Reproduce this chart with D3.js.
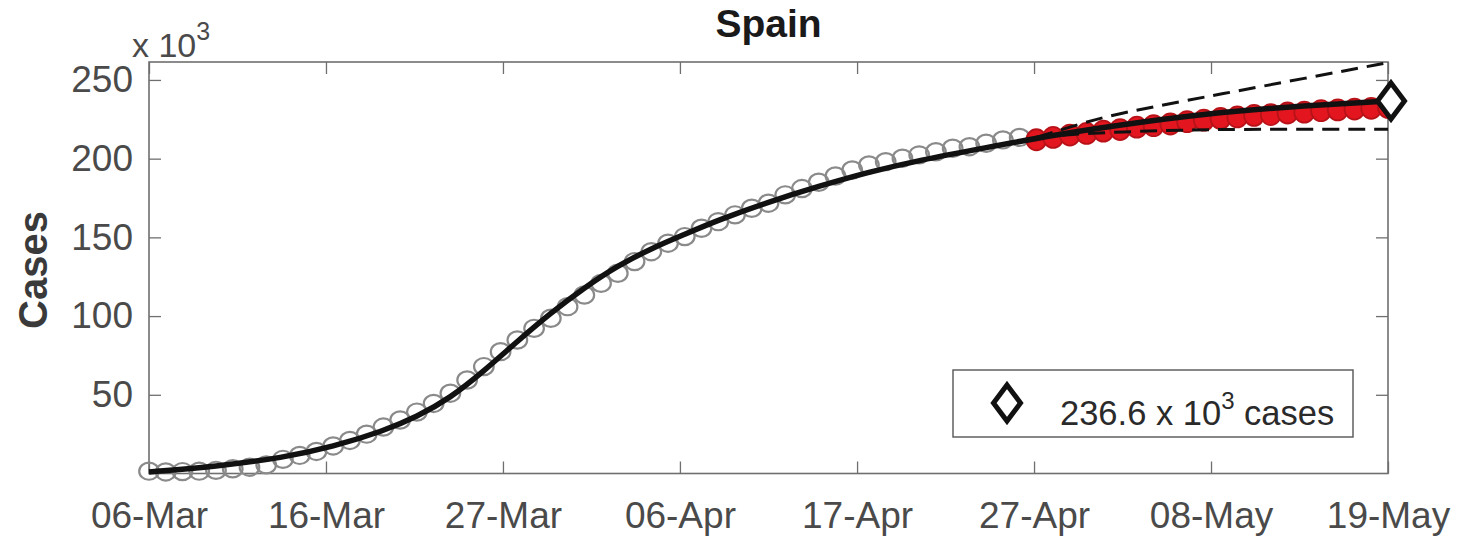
<!DOCTYPE html>
<html>
<head>
<meta charset="utf-8">
<script src="https://cdn.jsdelivr.net/npm/d3@7"></script>
<style>
body{margin:0;background:#fff;}
svg{display:block;font-family:"Liberation Sans",Arial,Helvetica,sans-serif;}
</style>
</head>
<body>
<div id="chart"></div>
<script>
// cumulative cases (x 10^3), one value per day starting 06-Mar (day 0)
const fittedCases = [1.5, 1.0, 1.2, 1.5, 2.0, 3.0, 4.0, 5.5, 9, 11.5,
	14, 17.5, 21, 25, 29.5, 34, 39, 44.5, 51, 59.4,
	67.9, 77.4, 84.8, 92.2, 98.6, 106.0, 113.4, 120.8, 127.2, 134.6,
	140.9, 146.3, 150.5, 155.8, 160.0, 164.3, 168.5, 171.7, 177, 181,
	185, 189, 192.8, 196, 198.1, 200.3, 202.4, 204.4, 206.6, 207.6,
	209.8, 211.9, 213.5];
// red points, days 53..74 (28-Apr .. 19-May)
const testStart = 53;
const testCases = [212, 213.5, 215, 216, 217.5, 218.5, 220, 221, 222, 223.5,
	224.5, 225.5, 226.5, 227.5, 228, 229, 229.5, 230.5, 231, 231.5, 232, 232.5];
// model curve
const modelDays = [0, 4, 8, 11, 14, 16, 18, 20, 22, 24, 26, 28, 30, 32, 34, 37, 40, 43, 46, 50, 54, 58, 63, 68, 74];
const modelCases = [1, 4.5, 10, 17, 27, 36, 48, 65, 84, 102, 118, 132, 143, 152, 161, 172.5, 182.5, 191.5, 199, 207, 215, 221.5, 228.5, 233, 236.6];
// bounds
const upperDays = [53, 55, 57, 60, 64, 69, 74];
const upperCases = [213.5, 220, 226.5, 233, 241, 251, 261];
const lowerDays = [53, 55, 58, 62, 66, 74];
const lowerCases = [213.5, 215.5, 217, 218.3, 218.7, 218.7];
const forecastDay = 74;
const forecastValue = 236.6;

const xTickDays = [0, 10.57, 21.14, 31.71, 42.29, 52.86, 63.43, 74];
const xTickLabels = ["06-Mar", "16-Mar", "27-Mar", "06-Apr", "17-Apr", "27-Apr", "08-May", "19-May"];
const yTicks = [50, 100, 150, 200, 250];

const W = 1460, H = 541;
const L = 149, R = 1388, T = 62, B = 473.5;
const axisCol = "#6f6f6f", textCol = "#4a4a4a";

const svg = d3.select("#chart").append("svg")
	.attr("width", W).attr("height", H);

const x = d3.scaleLinear().domain([0, 74]).range([L, R]);
const y = d3.scaleLinear().domain([0, 261.4]).range([B, T]);

//======== axes (ticks inward on all four sides)
function styleAxis(g){
	g.select(".domain").remove();
	g.selectAll(".tick line").attr("stroke", axisCol).attr("stroke-width", 1.3);
	g.selectAll(".tick text").attr("fill", textCol).attr("font-size", 37)
		.attr("font-family", "Liberation Sans, Arial, sans-serif");
}
svg.append("g").attr("transform", "translate(0," + B + ")")
	.call(d3.axisBottom(x).tickValues(xTickDays).tickSize(-12).tickPadding(28)
		.tickFormat((d, i) => xTickLabels[i]))
	.call(styleAxis);
svg.append("g").attr("transform", "translate(0," + T + ")")
	.call(d3.axisTop(x).tickValues(xTickDays).tickSize(-12).tickFormat(""))
	.call(styleAxis);
svg.append("g").attr("transform", "translate(" + L + ",0)")
	.call(d3.axisLeft(y).tickValues(yTicks).tickSize(-12).tickPadding(16))
	.call(styleAxis);
svg.append("g").attr("transform", "translate(" + R + ",0)")
	.call(d3.axisRight(y).tickValues(yTicks).tickSize(-12).tickFormat(""))
	.call(styleAxis);

svg.append("rect")
	.attr("x", L).attr("y", T).attr("width", R - L).attr("height", B - T)
	.attr("fill", "none").attr("stroke", axisCol).attr("stroke-width", 1.6);

//======== data
svg.append("g").selectAll("ellipse")
	.data(fittedCases)
	.enter().append("ellipse")
	.attr("cx", (d, i) => x(i))
	.attr("cy", d => y(d))
	.attr("rx", 9.8).attr("ry", 8.6)
	.attr("fill", "none")
	.attr("stroke", "#8a8a8a")
	.attr("stroke-width", 2.2);

svg.append("g").selectAll("ellipse")
	.data(testCases)
	.enter().append("ellipse")
	.attr("cx", (d, i) => x(testStart + i))
	.attr("cy", d => y(d))
	.attr("rx", 10).attr("ry", 10.5)
	.attr("fill", "#e3161f")
	.attr("stroke", "#b81219")
	.attr("stroke-width", 1.8);

const line = d3.line().curve(d3.curveBasis)
	.x(d => x(d[0])).y(d => y(d[1]));

svg.append("path")
	.datum(upperDays.map((d, i) => [d, upperCases[i]]))
	.attr("d", line).attr("fill", "none")
	.attr("stroke", "#111").attr("stroke-width", 3)
	.attr("stroke-dasharray", "17,9");
svg.append("path")
	.datum(lowerDays.map((d, i) => [d, lowerCases[i]]))
	.attr("d", line).attr("fill", "none")
	.attr("stroke", "#111").attr("stroke-width", 3)
	.attr("stroke-dasharray", "17,9");

svg.append("path")
	.datum(modelDays.map((d, i) => [d, modelCases[i]]))
	.attr("d", line).attr("fill", "none")
	.attr("stroke", "#111").attr("stroke-width", 5.5)
	.attr("stroke-linejoin", "round");

const diamond = "M0,-18L13.5,0L0,18L-13.5,0Z";
svg.append("path")
	.attr("d", diamond)
	.attr("transform", "translate(" + (x(forecastDay) + 3) + "," + y(forecastValue) + ")")
	.attr("fill", "#fff").attr("stroke", "#111").attr("stroke-width", 5);

//======== legend
const lg = svg.append("g");
lg.append("rect")
	.attr("x", 953).attr("y", 370).attr("width", 400).attr("height", 67)
	.attr("fill", "#fff").attr("stroke", "#555").attr("stroke-width", 1.4);
lg.append("path")
	.attr("d", diamond)
	.attr("transform", "translate(1007,403)")
	.attr("fill", "#fff").attr("stroke", "#111").attr("stroke-width", 5);
const lt = lg.append("text")
	.attr("x", 1060).attr("y", 425)
	.attr("font-size", 34.5).attr("fill", "#2a2a2a");
lt.append("tspan").text(forecastValue.toFixed(1) + " x 10");
lt.append("tspan").attr("dy", -16).attr("font-size", 24).text("3");
lt.append("tspan").attr("dy", 16).text(" cases");

//======== titles
svg.append("text")
	.attr("x", (L + R) / 2).attr("y", 37)
	.attr("text-anchor", "middle")
	.attr("font-size", 39).attr("font-weight", "bold").attr("fill", "#1a1a1a")
	.text("Spain");

svg.append("text")
	.attr("transform", "translate(47," + 270 + ") rotate(-90)")
	.attr("text-anchor", "middle")
	.attr("font-size", 40).attr("font-weight", "bold").attr("fill", "#3a3a3a")
	.text("Cases");

const ex = svg.append("text")
	.attr("x", 132).attr("y", 57)
	.attr("font-size", 34).attr("fill", textCol);
ex.append("tspan").text("x 10");
ex.append("tspan").attr("dy", -17).attr("font-size", 25).text("3");
</script>
</body>
</html>
